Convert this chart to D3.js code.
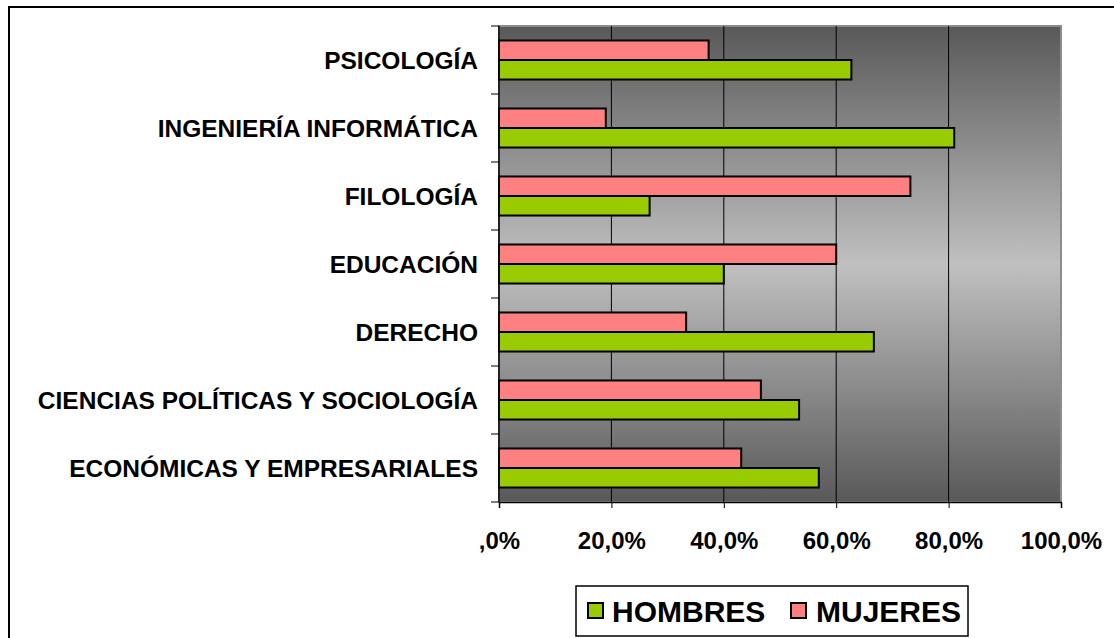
<!DOCTYPE html>
<html>
<head>
<meta charset="utf-8">
<script src="https://cdn.jsdelivr.net/npm/d3@7"></script>
<style>
  body { margin: 0; background: #fff; }
  svg { display: block; font-family: "Liberation Sans", Arial, sans-serif; font-weight: bold; }
</style>
</head>
<body>
<div id="chart"></div>
<script>
// Datos del gráfico
const categories = [
  "PSICOLOGÍA",
  "INGENIERÍA INFORMÁTICA",
  "FILOLOGÍA",
  "EDUCACIÓN",
  "DERECHO",
  "CIENCIAS POLÍTICAS Y SOCIOLOGÍA",
  "ECONÓMICAS Y EMPRESARIALES"
];
const hombres = [62.7, 81.0, 26.8, 40.0, 66.7, 53.4, 56.9];
const mujeres = [37.3, 19.0, 73.2, 60.0, 33.3, 46.6, 43.1];
const seriesNames = ["MUJERES", "HOMBRES"];
const xTicks = [0, 20, 40, 60, 80, 100];
const xTickLabels = [",0%", "20,0%", "40,0%", "60,0%", "80,0%", "100,0%"];

const width = 1114;
const height = 638;
const plot = { left: 499, right: 1061, top: 26, bottom: 502 };

const colors = { HOMBRES: "#99cc00", MUJERES: "#ff8080" };

const svg = d3.select("#chart").append("svg")
  .attr("width", width)
  .attr("height", height);

// Borde exterior del gráfico (se sale de la imagen por la derecha y abajo)
svg.append("rect")
  .attr("x", 9).attr("y", 7)
  .attr("width", width + 20).attr("height", height + 20)
  .attr("fill", "#fff")
  .attr("stroke", "#000")
  .attr("stroke-width", 2);

// Degradado vertical del área de trazado
const grad = svg.append("defs").append("linearGradient")
  .attr("id", "bg").attr("x1", 0).attr("y1", 0).attr("x2", 0).attr("y2", 1);
grad.append("stop").attr("offset", "0%").attr("stop-color", "#595959");
grad.append("stop").attr("offset", "50%").attr("stop-color", "#c0c0c0");
grad.append("stop").attr("offset", "100%").attr("stop-color", "#595959");

// Escalas
const x = d3.scaleLinear().domain([0, 100]).range([plot.left, plot.right]);
const y = d3.scaleBand()
  .domain(categories)
  .range([plot.top, plot.bottom])
  .paddingInner(0.426)
  .paddingOuter(0.213);
const ySub = d3.scaleBand().domain(seriesNames).range([0, y.bandwidth()]);

svg.append("rect")
  .attr("x", plot.left).attr("y", plot.top)
  .attr("width", plot.right - plot.left).attr("height", plot.bottom - plot.top)
  .attr("fill", "url(#bg)")
  .attr("stroke", "#8c8c8c")
  .attr("stroke-width", 2);

// Líneas de cuadrícula
svg.append("g")
  .selectAll("line")
  .data(xTicks.filter(d => d > 0 && d < 100))
  .enter().append("line")
  .attr("x1", d => x(d)).attr("x2", d => x(d))
  .attr("y1", plot.top).attr("y2", plot.bottom)
  .attr("stroke", "#000").attr("stroke-width", 1);

// Barras
const rows = categories.map((c, i) => ({ cat: c, MUJERES: mujeres[i], HOMBRES: hombres[i] }));
const groups = svg.append("g")
  .selectAll("g")
  .data(rows)
  .enter().append("g")
  .attr("transform", d => `translate(0, ${y(d.cat)})`);

groups.selectAll("rect")
  .data(d => seriesNames.map(s => ({ s, v: d[s] })))
  .enter().append("rect")
  .attr("x", x(0))
  .attr("y", d => ySub(d.s))
  .attr("width", d => x(d.v) - x(0))
  .attr("height", ySub.bandwidth())
  .attr("fill", d => colors[d.s])
  .attr("stroke", "#000")
  .attr("stroke-width", 2);

// Eje Y: línea, marcas entre categorías y etiquetas
const yAxis = svg.append("g");
yAxis.append("line")
  .attr("x1", plot.left).attr("x2", plot.left)
  .attr("y1", plot.top).attr("y2", plot.bottom)
  .attr("stroke", "#000").attr("stroke-width", 1.5);
const boundaries = categories.map(c => y(c) - y.step() * y.paddingInner() / 2);
boundaries.push(plot.bottom);
yAxis.selectAll("line.tick")
  .data(boundaries)
  .enter().append("line")
  .attr("class", "tick")
  .attr("x1", plot.left - 8).attr("x2", plot.left)
  .attr("y1", d => d).attr("y2", d => d)
  .attr("stroke", "#000").attr("stroke-width", 1);
yAxis.selectAll("text")
  .data(categories)
  .enter().append("text")
  .attr("x", plot.left - 21)
  .attr("y", d => y(d) + y.bandwidth() / 2)
  .attr("dy", "0.35em")
  .attr("text-anchor", "end")
  .attr("font-size", 24.5)
  .text(d => d);

// Eje X
const xAxis = svg.append("g")
  .attr("transform", `translate(0, ${plot.bottom})`)
  .call(d3.axisBottom(x)
    .tickValues(xTicks)
    .tickSize(6)
    .tickPadding(24)
    .tickFormat((d, i) => xTickLabels[i]));
xAxis.select(".domain").attr("stroke", "#000").attr("stroke-width", 1.5);
xAxis.selectAll("text")
  .attr("font-size", 24)
  .attr("font-weight", "bold")
  .attr("font-family", "'Liberation Sans', Arial, sans-serif")
  .attr("fill", "#000");

// Leyenda
const legend = svg.append("g");
legend.append("rect")
  .attr("x", 576).attr("y", 586)
  .attr("width", 392).attr("height", 50)
  .attr("fill", "#fff")
  .attr("stroke", "#000")
  .attr("stroke-width", 1.5);
const legendItems = [
  { name: "HOMBRES", sx: 588, tx: 612 },
  { name: "MUJERES", sx: 791, tx: 816 }
];
legend.selectAll("rect.key")
  .data(legendItems)
  .enter().append("rect")
  .attr("class", "key")
  .attr("x", d => d.sx).attr("y", 603)
  .attr("width", 15).attr("height", 15)
  .attr("fill", d => colors[d.name])
  .attr("stroke", "#000").attr("stroke-width", 2);
legend.selectAll("text")
  .data(legendItems)
  .enter().append("text")
  .attr("x", d => d.tx).attr("y", 611)
  .attr("dy", "0.36em")
  .attr("font-size", 30)
  .text(d => d.name);
</script>
</body>
</html>
